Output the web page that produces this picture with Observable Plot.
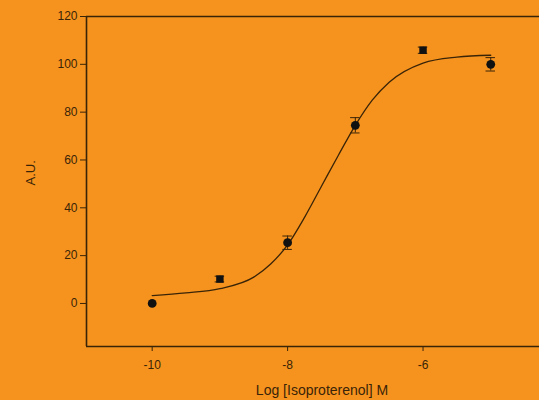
<!DOCTYPE html>
<html>
<head>
<meta charset="utf-8">
<script src="https://cdn.jsdelivr.net/npm/d3@7"></script>
<script src="https://cdn.jsdelivr.net/npm/@observablehq/plot@0.6"></script>
<style>
  html, body { margin: 0; padding: 0; background: #F6931E; }
  #chart svg { display: block; }
</style>
</head>
<body>
<div id="chart"></div>
<script>
// Measured points
const logConc = [-10, -9, -8, -7, -6, -5];
const response = [0, 10.2, 25.4, 74.5, 105.9, 100];
const errVal = [0, 1.2, 2.8, 3.2, 1.3, 2.8];
const symbolKind = ["circle", "square", "circle", "circle", "square", "circle"];

// Fitted curve
const curveX = [-10, -9.5, -9, -8.5, -8.25, -8, -7.75, -7.5, -7.25, -7, -6.75, -6.5, -6, -5.5, -5];
const curveY = [3.3, 4.4, 6.2, 11, 16.5, 24.5, 36, 49, 62, 74.5, 85, 92.5, 100.5, 103, 103.8];

// Axes
const xTicks = [-10, -8, -6];
const yTicks = [0, 20, 40, 60, 80, 100, 120];
const xDomain = [-10.97, -4.28];
const yDomain = [-18, 120];
const xLabel = "Log [Isoproterenol] M";
const yLabel = "A.U.";

const points = logConc.map((x, i) => ({x, y: response[i], e: errVal[i], s: symbolKind[i]}));
const curve = curveX.map((x, i) => ({x, y: curveY[i]}));

const ink = "#3a2408";
const font = "'Liberation Sans', Arial, sans-serif";

const chart = Plot.plot({
  width: 539,
  height: 400,
  marginLeft: 86,
  marginRight: 0,
  marginTop: 16,
  marginBottom: 54,
  style: {background: "#F6931E", color: ink, fontFamily: font, fontSize: "11px"},
  x: {domain: xDomain},
  y: {domain: yDomain},
  marks: [
    Plot.ruleX([xDomain[0]], {stroke: ink, strokeWidth: 1.6}),
    Plot.ruleY([yDomain[1], yDomain[0]], {stroke: ink, strokeWidth: 1.6}),
    Plot.axisY({ticks: yTicks, tickSize: 6, tickPadding: 3, label: null, stroke: ink, fill: ink, fontSize: 12}),
    Plot.axisX({ticks: xTicks, tickSize: 5, tickPadding: 9, label: null, stroke: ink, fill: ink, tickFormat: d => d < 0 ? "-" + Math.abs(d) : String(d), fontSize: 12}),
    Plot.text([xLabel], {frameAnchor: "bottom", text: d => d, dx: 9, dy: 48, fontSize: 14, fill: ink, textAnchor: "middle"}),
    Plot.text([yLabel], {frameAnchor: "left", text: d => d, rotate: -90, dx: -56, dy: 4, fontSize: 13, fill: ink}),
    Plot.line(curve, {x: "x", y: "y", curve: "monotone-x", stroke: ink, strokeWidth: 1.3}),
    Plot.ruleX(points.filter(d => d.e > 0), {x: "x", y1: d => d.y - d.e, y2: d => d.y + d.e, stroke: ink, strokeWidth: 1}),
    Plot.ruleY(points.filter(d => d.e > 0), {y: d => d.y - d.e, x1: d => d.x - 0.07, x2: d => d.x + 0.07, stroke: ink, strokeWidth: 1}),
    Plot.ruleY(points.filter(d => d.e > 0), {y: d => d.y + d.e, x1: d => d.x - 0.07, x2: d => d.x + 0.07, stroke: ink, strokeWidth: 1}),
    Plot.dot(points.filter(d => d.s === "circle"), {x: "x", y: "y", r: 4.4, fill: "#111", stroke: null}),
    Plot.dot(points.filter(d => d.s === "square"), {x: "x", y: "y", r: 4.2, symbol: "square", fill: "#111", stroke: null})
  ]
});
document.getElementById("chart").appendChild(chart);
</script>
</body>
</html>
